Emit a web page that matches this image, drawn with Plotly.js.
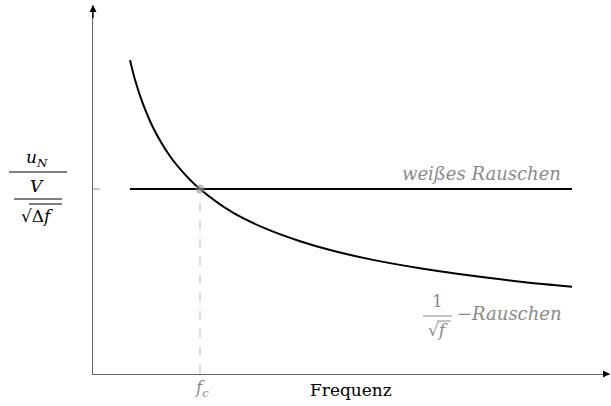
<!DOCTYPE html>
<html>
<head>
<meta charset="utf-8">
<script src="https://cdn.plot.ly/plotly-3.0.1.min.js"></script>
<style>html,body{margin:0;padding:0;background:#fff;}#chart{width:611px;height:406px;}</style>
</head>
<body>
<div id="chart"></div>
<script>
// Frequency in units of the corner frequency f_c; noise density in units of the white-noise level
const freq = [0.346, 0.393, 0.467, 0.561, 0.720, 0.85, 1.0, 1.308, 1.626, 1.935, 2.243, 2.617, 3.084, 3.402, 3.710, 4.019, 4.477];
const pinkNoise = [1.697, 1.590, 1.460, 1.333, 1.177, 1.085, 1.0, 0.872, 0.783, 0.718, 0.666, 0.617, 0.569, 0.542, 0.519, 0.498, 0.472];
const whiteX = [0.346, 4.477];
const whiteY = [1.0, 1.0];
const fc = 1.0;
const whiteLevel = 1.0;
const xMax = 4.832;
const yMax = 1.995;

const L = 93, T = 5, W = 517, H = 369;
const px = x => (x - L) / W;
const py = y => (T + H - y) / H;

const serif = "DejaVu Serif";
const gray = "#8a8a8a";

const traces = [
  {x: freq, y: pinkNoise, mode: "lines", line: {color: "#000", width: 2, shape: "spline", smoothing: 1}, hoverinfo: "skip"},
  {x: whiteX, y: whiteY, mode: "lines", line: {color: "#000", width: 2}, hoverinfo: "skip"},
  {x: [fc], y: [whiteLevel], mode: "markers", marker: {color: "rgba(150,150,150,0.6)", size: 9}, hoverinfo: "skip"}
];

const shapes = [
  {type: "line", xref: "x", yref: "y", x0: fc, x1: fc, y0: 0, y1: whiteLevel, line: {color: "#bbbbbb", width: 1, dash: "dash"}},
  {type: "line", xref: "x", yref: "y", x0: -0.056, x1: 0.065, y0: whiteLevel, y1: whiteLevel, line: {color: "#999", width: 1}},
  // fraction bars of the y label
  {type: "line", xref: "paper", yref: "paper", x0: px(9), x1: px(67), y0: py(172), y1: py(172), line: {color: "#000", width: 1}},
  {type: "line", xref: "paper", yref: "paper", x0: px(14), x1: px(62), y0: py(199), y1: py(199), line: {color: "#000", width: 1}},
  // radical bar of sqrt(Δf)
  {type: "line", xref: "paper", yref: "paper", x0: px(29), x1: px(62), y0: py(204), y1: py(204), line: {color: "#000", width: 1}},
  // fraction 1/sqrt(f)
  {type: "line", xref: "paper", yref: "paper", x0: px(423), x1: px(452), y0: py(316), y1: py(316), line: {color: gray, width: 1}},
  {type: "line", xref: "paper", yref: "paper", x0: px(437), x1: px(451), y0: py(321), y1: py(321), line: {color: gray, width: 1}}
];

const ann = (x, y, text, opts) => Object.assign({xref: "paper", yref: "paper", x: px(x), y: py(y), text: text, showarrow: false, xanchor: "center", yanchor: "middle", font: {family: serif, size: 17, color: "#000"}}, opts || {});

const annotations = [
  // axis arrows
  {xref: "x", yref: "y", axref: "x", ayref: "y", x: xMax, y: 0, ax: xMax - 0.08, ay: 0, text: "", showarrow: true, arrowhead: 2, arrowsize: 1, arrowwidth: 1.4, arrowcolor: "#000"},
  {xref: "x", yref: "y", axref: "x", ayref: "y", x: 0, y: yMax, ax: 0, ay: yMax - 0.08, text: "", showarrow: true, arrowhead: 2, arrowsize: 1, arrowwidth: 1.4, arrowcolor: "#000"},
  ann(351, 390, "Frequenz"),
  ann(201, 388, "<i>f</i><sub><i>c</i></sub>", {font: {family: serif, size: 17, color: gray}}),
  ann(563, 173, "<i>weißes Rauschen</i>", {xanchor: "right", font: {family: serif, size: 18, color: gray}}),
  ann(437, 301, "1", {font: {family: serif, size: 17, color: gray}}),
  ann(438, 330, "√<i>f</i>", {font: {family: serif, size: 17, color: gray}}),
  ann(455, 313, "−<i>Rauschen</i>", {xanchor: "left", font: {family: serif, size: 18, color: gray}}),
  ann(37, 158, "<i>u</i><sub><i>N</i></sub>"),
  ann(37, 186, "<i>V</i>"),
  ann(37, 216, "√Δ<i>f</i>")
];

const layout = {
  width: 611, height: 406,
  margin: {l: L, r: 611 - L - W, t: T, b: 406 - T - H},
  paper_bgcolor: "#fff", plot_bgcolor: "#fff",
  showlegend: false,
  xaxis: {range: [0, xMax], showline: true, linecolor: "#666", linewidth: 1.3, zeroline: false, showgrid: false, showticklabels: false, ticks: "", fixedrange: true},
  yaxis: {range: [0, yMax], showline: true, linecolor: "#666", linewidth: 1.3, zeroline: false, showgrid: false, showticklabels: false, ticks: "", fixedrange: true},
  shapes: shapes,
  annotations: annotations
};

Plotly.newPlot("chart", traces, layout, {displayModeBar: false, staticPlot: true});
</script>
</body>
</html>
